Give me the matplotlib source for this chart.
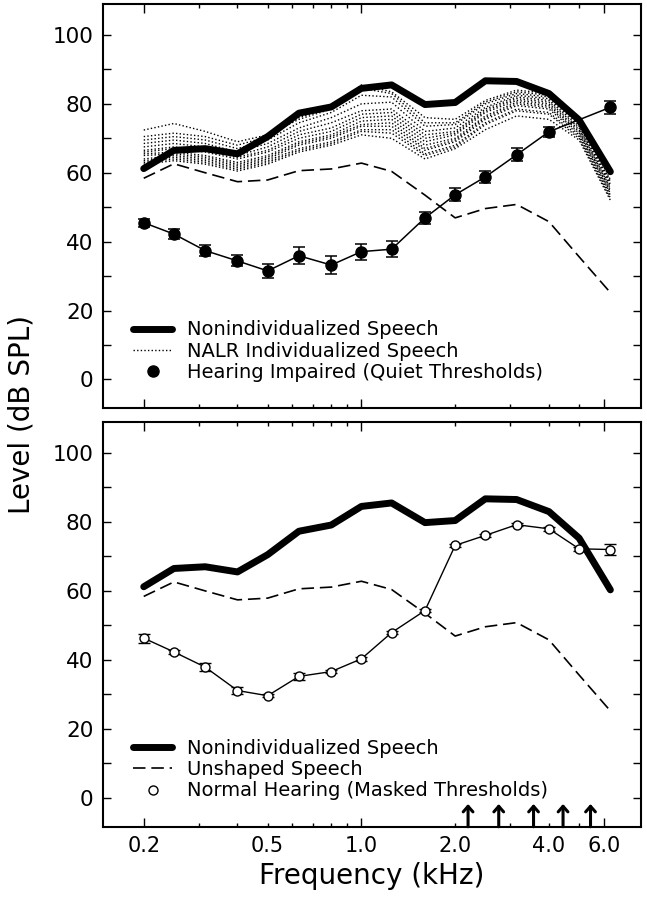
import matplotlib
matplotlib.use("Agg")
import matplotlib.pyplot as plt
from matplotlib.lines import Line2D
from matplotlib.ticker import FixedLocator

plt.rcParams['font.family'] = ['DejaVu Sans']

# 1/3-octave centre frequencies (kHz)
freqs = [0.2, 0.25, 0.315, 0.4, 0.5, 0.63, 0.8, 1.0, 1.25, 1.6, 2.0, 2.5, 3.15, 4.0, 5.0, 6.3]

nonindiv_speech = [61.2, 66.5, 67.0, 65.5, 70.5, 77.3, 79.1, 84.5, 85.5, 79.8,
                   80.4, 86.7, 86.5, 83.0, 75.3, 60.3]
unshaped_speech = [58.4, 62.6, 60.0, 57.4, 57.9, 60.6, 61.1, 62.8, 60.4, 53.5,
                   46.9, 49.6, 50.8, 45.8, 35.6, 25.2]

# NALR individualized speech, one row per listener
nalr_speech = [
    [72.4, 74.3, 72.0, 69.0, 71.0, 75.5, 78.5, 85.5, 83.5, 76.0, 75.5, 81.0, 84.0, 83.0, 75.5, 58.0],
    [70.5, 71.5, 70.5, 68.0, 70.5, 76.0, 79.0, 84.5, 83.0, 74.5, 74.5, 80.5, 83.5, 82.5, 75.0, 57.5],
    [69.5, 70.5, 69.5, 67.0, 69.5, 74.5, 77.5, 82.5, 82.0, 73.5, 74.0, 80.0, 83.0, 82.0, 74.5, 57.0],
    [68.5, 69.5, 68.5, 66.0, 68.5, 73.0, 76.0, 80.0, 80.5, 72.0, 73.0, 79.0, 82.5, 81.5, 74.0, 56.5],
    [67.5, 68.5, 67.5, 65.0, 67.5, 72.0, 74.5, 78.0, 78.5, 71.0, 72.0, 78.5, 82.0, 81.0, 73.5, 56.0],
    [66.5, 67.5, 66.5, 64.5, 66.5, 71.0, 73.0, 77.0, 77.5, 70.0, 71.5, 78.0, 81.5, 80.5, 73.0, 55.5],
    [66.0, 67.0, 66.0, 64.0, 66.0, 70.0, 72.0, 76.0, 76.5, 69.0, 71.0, 77.5, 81.0, 80.0, 72.5, 55.0],
    [65.5, 66.0, 65.0, 63.0, 65.0, 69.0, 71.0, 75.0, 75.5, 68.0, 70.0, 76.5, 80.5, 79.5, 72.0, 54.5],
    [65.0, 65.5, 64.5, 62.5, 64.5, 68.5, 70.5, 74.0, 74.5, 67.0, 69.5, 76.0, 80.0, 79.0, 71.5, 54.0],
    [64.0, 65.0, 64.0, 62.0, 64.0, 68.0, 70.0, 73.5, 73.5, 66.5, 69.0, 75.5, 79.5, 78.5, 71.0, 53.5],
    [63.5, 64.5, 63.5, 61.5, 63.5, 67.0, 69.0, 72.5, 72.5, 65.5, 68.0, 74.5, 78.5, 77.5, 70.5, 53.0],
    [63.0, 64.0, 63.0, 61.0, 63.0, 66.5, 68.5, 72.0, 71.5, 65.0, 67.5, 74.0, 78.0, 77.0, 70.0, 52.5],
    [62.5, 63.5, 62.5, 60.5, 62.5, 66.0, 68.0, 71.0, 70.0, 64.0, 67.0, 72.5, 76.5, 75.5, 69.5, 52.0],
]

# hearing-impaired quiet thresholds (no 5 kHz point)
hi_freqs = [0.2, 0.25, 0.315, 0.4, 0.5, 0.63, 0.8, 1.0, 1.25, 1.6, 2.0, 2.5, 3.15, 4.0, 6.3]
hi_thresh = [45.5, 42.2, 37.4, 34.4, 31.5, 35.9, 33.2, 37.1, 37.8, 46.9,
             53.6, 58.8, 65.2, 71.9, 79.0]
hi_err = [1.2, 1.4, 1.6, 1.6, 2.0, 2.5, 2.7, 2.3, 2.4, 1.7, 1.9, 1.7, 1.9, 1.5, 1.8]

# normal-hearing masked thresholds
nh_thresh = [46.3, 42.3, 37.9, 31.1, 29.6, 35.2, 36.6, 40.3, 47.9, 54.3,
             73.2, 76.1, 79.2, 78.0, 72.2, 72.0]
nh_err = [1.3, 0.5, 1.2, 1.1, 0.5, 0.9, 0.5, 0.5, 0.5, 0.5, 0.5, 0.5, 0.5, 0.5, 0.5, 1.5]

# masker arrows along the bottom panel
arrow_freqs = [2.2, 2.76, 3.57, 4.44, 5.44]
arrow_tip = -1.8

x_major = [0.2, 1.0, 6.0]
x_major_labels = ["0.2", "1.0", "6.0"]
x_minor = [0.3, 0.4, 0.5, 0.6, 0.7, 0.8, 0.9, 2.0, 3.0, 4.0, 5.0]
x_minor_labels = ["", "", "0.5", "", "", "", "", "2.0", "", "4.0", ""]
y_major = [0, 20, 40, 60, 80, 100]
y_minor = [10, 30, 50, 70, 90]

XLIM = (0.148, 7.9)
YLIM = (-8.4, 108.9)
THICK = dict(color="black", lw=5, solid_capstyle="round", solid_joinstyle="round")
DASHED = dict(color="black", lw=1.2, linestyle=(0, (7.5, 3.5)))
DOTTED = dict(color="black", lw=1.0, linestyle=(0, (1, 1.6)))


def style_axes(ax, xlabels):
    ax.set_xscale("log")
    ax.set_xlim(*XLIM)
    ax.set_ylim(*YLIM)
    ax.xaxis.set_major_locator(FixedLocator(x_major))
    ax.xaxis.set_minor_locator(FixedLocator(x_minor))
    if xlabels:
        ax.set_xticklabels(x_major_labels)
        ax.set_xticklabels(x_minor_labels, minor=True)
    else:
        ax.set_xticklabels([])
        ax.set_xticklabels([], minor=True)
    ax.set_yticks(y_major)
    ax.set_yticks(y_minor, minor=True)
    ax.tick_params(axis="both", which="both", direction="in", top=True, right=True,
                   width=1.0, pad=7, labelsize=15)
    ax.tick_params(axis="x", which="major", length=6.5)
    ax.tick_params(axis="x", which="minor", length=3.2)
    ax.tick_params(axis="y", which="both", length=6, labelsize=15.5)
    for sp in ax.spines.values():
        sp.set_linewidth(1.5)


def add_legend(ax, handles, labels):
    ax.legend(handles, labels, loc="lower left", bbox_to_anchor=(0.056, 0.065),
              frameon=False, fontsize=14, handlelength=2.0, handletextpad=0.75,
              labelspacing=0.12, borderpad=0, borderaxespad=0)


fig = plt.figure(figsize=(6.47, 9.0), dpi=100)
ax1 = fig.add_axes([0.1592, 0.5463, 0.8315, 0.4489])
ax2 = fig.add_axes([0.1592, 0.0814, 0.8315, 0.4494])

# --- top panel ---
for row in nalr_speech:
    ax1.plot(freqs, row, **DOTTED)
ax1.plot(freqs, unshaped_speech, **DASHED)
ax1.plot(freqs, nonindiv_speech, **THICK)
ax1.errorbar(hi_freqs, hi_thresh, yerr=hi_err, color="black", lw=1.1,
             marker="o", ms=8, capsize=4.5, capthick=1.1, elinewidth=1.1)
style_axes(ax1, False)

add_legend(ax1,
           [Line2D([], [], **THICK),
            Line2D([], [], **DOTTED),
            Line2D([], [], color="black", ls="none", marker="o", ms=8)],
           ["Nonindividualized Speech", "NALR Individualized Speech",
            "Hearing Impaired (Quiet Thresholds)"])

# --- bottom panel ---
ax2.plot(freqs, unshaped_speech, **DASHED)
ax2.plot(freqs, nonindiv_speech, **THICK)
ax2.errorbar(freqs, nh_thresh, yerr=nh_err, color="black", lw=1.0,
             marker="o", ms=6.5, mfc="white", mec="black", mew=1.0,
             capsize=4.5, capthick=1.1, elinewidth=1.1)
for f in arrow_freqs:
    ax2.annotate("", xy=(f, arrow_tip), xytext=(f, YLIM[0]),
                 arrowprops=dict(arrowstyle="->,head_length=0.4,head_width=0.35",
                                 lw=2.2, color="black", shrinkA=0, shrinkB=0))
style_axes(ax2, True)

add_legend(ax2,
           [Line2D([], [], **THICK),
            Line2D([], [], **DASHED),
            Line2D([], [], color="black", ls="none", marker="o", ms=6.5,
                   mfc="white", mec="black", mew=1.0)],
           ["Nonindividualized Speech", "Unshaped Speech",
            "Normal Hearing (Masked Thresholds)"])

ax2.set_xlabel("Frequency (kHz)", fontsize=20, labelpad=4)
fig.text(0.034, 0.54, "Level (dB SPL)", rotation=90, fontsize=20,
         ha="center", va="center")

fig.savefig("out.png", dpi=100)
